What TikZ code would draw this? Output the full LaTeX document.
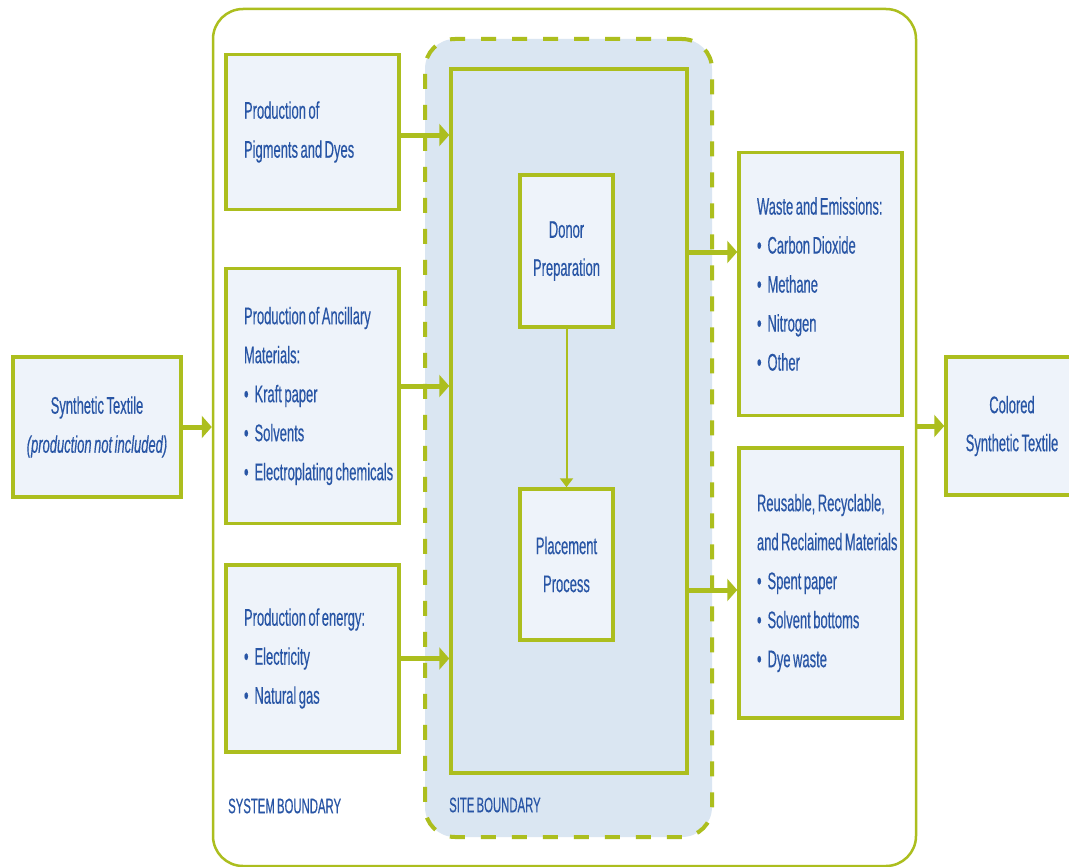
\documentclass[tikz,border=0pt]{standalone}
\usepackage{fontspec}
\setmainfont{Liberation Sans}[FakeStretch=0.54, WordSpace=0.7, FakeBold=0.4]
\usepackage{tikz}
\usetikzlibrary{arrows.meta, positioning, calc}
\definecolor{EPGreen}{RGB}{172,190,30}
\definecolor{EPBlue}{RGB}{40,85,165}
\definecolor{EPPale}{RGB}{238,243,250}
\definecolor{EPSite}{RGB}{218,230,242}
\newcommand{\itm}[1]{\mbox{\textbullet\hspace{6pt}#1}}

\begin{document}
\begin{tikzpicture}[x=1pt, y=-1pt,
          bx/.style={draw=EPGreen, line width=3.5pt, fill=EPPale,
                     text=EPBlue, inner sep=0pt,
                     font=\fontsize{24}{39}\selectfont},
          lbx/.style={bx, align=left, inner xsep=18pt,
                      execute at begin node={\spaceskip=0pt\xspaceskip=0pt}},
          cbx/.style={bx, align=center},
          arr/.style={draw=EPGreen, line width=5pt,
                      -{Triangle[length=10pt, width=22pt]}},
          tag/.style={text=EPBlue, anchor=west, inner sep=0pt,
                      font=\fontsize{21}{25}\selectfont}
        ]
        \fill[white] (0,0) rectangle (1069,867);
        \useasboundingbox (0,0) rectangle (1069,867);

        % boundaries
        \node[draw=EPGreen, line width=2.5pt, rounded corners=30pt,
              minimum width=703pt, minimum height=857pt]
              (sysb) at (564.5, 437.5) {};
        \node[draw=EPGreen, fill=EPSite, line width=4pt, rounded corners=30pt,
              dash pattern=on 15pt off 16pt,
              minimum width=287pt, minimum height=798pt]
              (siteb) at (568.5, 438) {};
        \node[bx, fill=EPSite, minimum width=236pt, minimum height=704pt]
              (core) at (569, 421) {};
        \node[tag] (systag) at (228, 806) {SYSTEM BOUNDARY};
        \node[tag] (sitetag) at (449, 805) {SITE BOUNDARY};

        % inputs (left)
        \node[cbx, minimum width=168pt, minimum height=140pt]
              (syn) at (97, 427)
              {Synthetic Textile\\\textit{(production not included)}};
        \node[lbx, text width=137pt, minimum height=155pt]
              (pig) at (312.5, 132)
              {Production of\\Pigments and Dyes};
        \node[lbx, text width=137pt, minimum height=255pt]
              (anc) at (312.5, 396)
              {\mbox{Production of Ancillary}\\Materials:\\
               \itm{Kraft paper}\\\itm{Solvents}\\
               \itm{Electroplating chemicals}};
        \node[lbx, text width=137pt, minimum height=187pt]
              (nrg) at (312.5, 658.5)
              {\mbox{Production of energy:}\\
               \itm{Electricity}\\\itm{Natural gas}};

        % site processes
        \node[cbx, minimum width=93pt, minimum height=152pt,
              font=\fontsize{24}{38}\selectfont]
              (donor) at (566.5, 251) {Donor\\Preparation};
        \node[cbx, minimum width=93pt, minimum height=151pt,
              font=\fontsize{24}{38}\selectfont]
              (place) at (566.5, 564.5) {Placement\\Process};
        \draw[draw=EPGreen, line width=2pt,
              -{Triangle[length=9pt, width=13pt]}] (donor) -- (place);

        % outputs (right)
        \node[lbx, text width=127pt, minimum height=263pt]
              (waste) at (820.5, 284)
              {\mbox{Waste and Emissions:}\\
               \itm{Carbon Dioxide}\\\itm{Methane}\\
               \itm{Nitrogen}\\\itm{Other}};
        \node[lbx, text width=127pt, minimum height=270pt]
              (reuse) at (820.5, 583)
              {\mbox{Reusable, Recyclable,}\\
               \mbox{and Reclaimed Materials}\\
               \itm{Spent paper}\\\itm{Solvent bottoms}\\
               \itm{Dye waste}};
        \node[bx, minimum width=139pt, minimum height=138pt]
              (col) at (1015.5, 426) {};
        \node[text=EPBlue, align=center, inner sep=0pt,
              font=\fontsize{24}{38}\selectfont]
              (coltxt) at (1012, 426) {Colored\\Synthetic Textile};

        % flows
        \draw[arr] (syn.east) -- (syn.east -| sysb.west);
        \foreach \s/\d in {pig/3, anc/-10, nrg/0} {
          \draw[arr] ($(\s.east)+(0,\d)$) -- ($(\s.east -| core.west)+(0,\d)$);
        }
        \foreach \t/\d in {waste/-32, reuse/7} {
          \draw[arr] ($(\t.west -| core.east)+(0,\d)$) -- ($(\t.west)+(0,\d)$);
        }
        \draw[arr] (col.west -| sysb.east) -- (col.west);
      \end{tikzpicture}
\end{document}
